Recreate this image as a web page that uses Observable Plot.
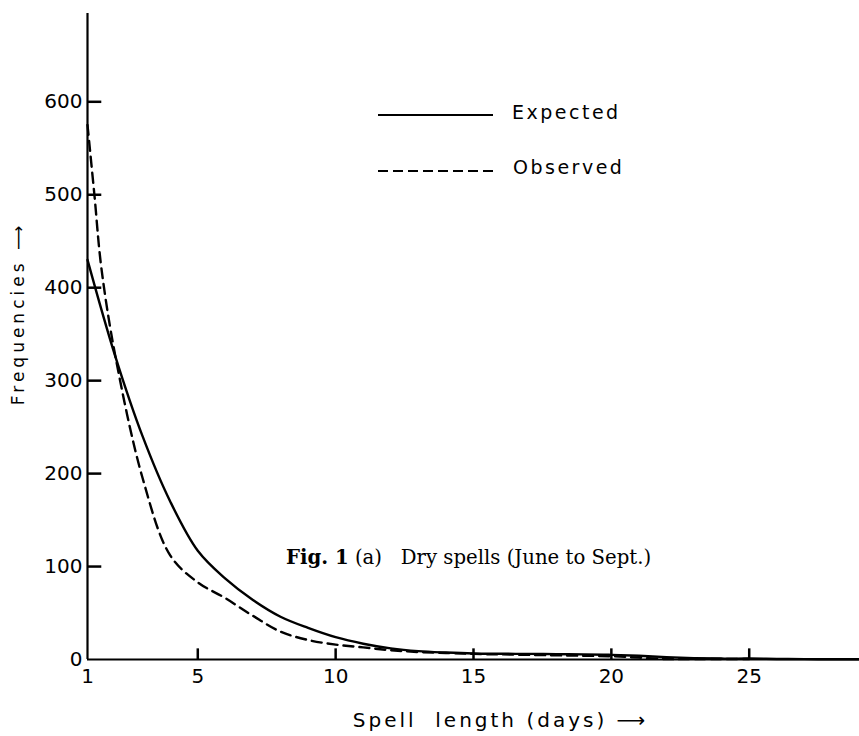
<!DOCTYPE html>
<html>
<head>
<meta charset="utf-8">
<script src="https://cdn.jsdelivr.net/npm/d3@7"></script>
<script src="https://cdn.jsdelivr.net/npm/@observablehq/plot@0.6"></script>
<style>
  html, body { margin: 0; padding: 0; background: #fff; }
  #wrap { position: relative; width: 859px; height: 736px; overflow: hidden; }
  .lg { position: absolute; font-family: "DejaVu Sans", sans-serif; font-size: 19px; letter-spacing: 2.5px; color: #000; line-height: 1; }
  #cap { position: absolute; font-family: "DejaVu Serif", serif; font-size: 19.7px; color: #000; white-space: pre; line-height: 1; }
</style>
</head>
<body>
<div id="wrap"></div>
<script>
// ---- data ----
const days = [1, 2, 3, 4, 5, 6, 7, 8, 9, 10, 11, 12, 13, 14, 15, 16, 17, 18, 19, 20, 21, 22, 23, 24, 25, 26, 27, 28, 29];
const expected = [430, 327, 240, 170, 117, 87, 64, 46, 34, 24, 17, 12, 9, 7.5, 6.5, 6.2, 6, 5.8, 5.5, 5, 4, 2.5, 1.5, 1, 1, 0.6, 0.4, 0.3, 0.2];
const obsDays = [1, 1.25, 1.5, 2, 3, 4, 5, 6, 7, 8, 9, 10, 11, 12, 13, 14, 15, 16, 17, 18, 19, 20, 21, 22, 23, 24, 25];
const observed = [575, 500, 422, 328, 195, 112, 83, 66, 47, 30, 21, 16, 13, 10, 8, 7, 6, 5.5, 5, 4.5, 4, 3.5, 2, 0.5, 0.5, 0.5, 0.5];
const xTicks = [1, 5, 10, 15, 20, 25];
const yTicks = [0, 100, 200, 300, 400, 500, 600];
const xLabel = "Spell  length (days) \u27F6";
const yLabel = "Frequencies \u27F6";
const legendLabels = ["Expected", "Observed"];
const caption = ["Fig. 1", " (a)   Dry spells (June to Sept.)"];

const expData = days.map((d, i) => ({day: d, freq: expected[i]}));
const obsData = obsDays.map((d, i) => ({day: d, freq: observed[i]}));

const xDomain = [1, 29];
const yDomain = [0, 695];

// short inward tick marks drawn from the axes
const yTickRows = yTicks.filter(v => v > 0).map(v => ({v, a: xDomain[0], b: xDomain[0] + 0.5}));
const xTickRows = xTicks.filter(v => v > xDomain[0]).map(v => ({v, a: 0, b: 12}));

const chart = Plot.plot({
  width: 859,
  height: 736,
  marginLeft: 87,
  marginRight: 0,
  marginTop: 13,
  marginBottom: 77,
  style: {fontFamily: "DejaVu Sans, sans-serif", fontSize: "20px", color: "#000", background: "#fff"},
  x: {domain: xDomain},
  y: {domain: yDomain},
  marks: [
    Plot.axisY({ticks: yTicks, tickSize: 0, tickPadding: 5, label: null, fontSize: 20}),
    Plot.axisX({ticks: xTicks, tickSize: 0, tickPadding: 9, label: null, fontSize: 20}),
    Plot.ruleX([xDomain[0]], {strokeWidth: 2.2}),
    Plot.ruleY([0], {strokeWidth: 2.2}),
    Plot.link(yTickRows, {x1: "a", x2: "b", y1: "v", y2: "v", stroke: "#000", strokeWidth: 2.5}),
    Plot.link(xTickRows, {x1: "v", x2: "v", y1: "a", y2: "b", stroke: "#000", strokeWidth: 2.5}),
    Plot.line(expData, {x: "day", y: "freq", curve: "catmull-rom", stroke: "#000", strokeWidth: 2.4}),
    Plot.line(obsData, {x: "day", y: "freq", curve: "catmull-rom", stroke: "#000", strokeWidth: 2.4, strokeDasharray: "10,6"}),
    Plot.text([yLabel], {frameAnchor: "left", textAnchor: "middle", dx: -69, dy: -23, rotate: -90, fontSize: 17, text: d => d, fill: "#000"}),
    Plot.text([xLabel], {frameAnchor: "bottom", textAnchor: "middle", dx: 27, dy: 67, fontSize: 20, text: d => d, fill: "#000"})
  ]
});
chart.querySelectorAll("text").forEach(t => {
  const s = t.textContent;
  if (s === yLabel) t.setAttribute("letter-spacing", "4");
  if (s === xLabel) t.setAttribute("letter-spacing", "3");
});
const wrap = document.getElementById("wrap");
wrap.appendChild(chart);

// legend
const ns = "http://www.w3.org/2000/svg";
const lsvg = document.createElementNS(ns, "svg");
lsvg.setAttribute("width", "859");
lsvg.setAttribute("height", "736");
lsvg.style.position = "absolute";
lsvg.style.left = "0";
lsvg.style.top = "0";
lsvg.style.pointerEvents = "none";
[[115, null], [171, "10,5"]].forEach(([y, dash]) => {
  const l = document.createElementNS(ns, "line");
  l.setAttribute("x1", 378); l.setAttribute("x2", 493);
  l.setAttribute("y1", y); l.setAttribute("y2", y);
  l.setAttribute("stroke", "#000"); l.setAttribute("stroke-width", "2.2");
  if (dash) l.setAttribute("stroke-dasharray", dash);
  lsvg.appendChild(l);
});
wrap.appendChild(lsvg);
[[512, 103], [513, 158]].forEach(([x, y], i) => {
  const d = document.createElement("div");
  d.className = "lg";
  d.style.left = x + "px";
  d.style.top = y + "px";
  d.textContent = legendLabels[i];
  wrap.appendChild(d);
});
const cap = document.createElement("div");
cap.id = "cap";
cap.style.left = "286px";
cap.style.top = "548px";
const b = document.createElement("b");
b.textContent = caption[0];
cap.appendChild(b);
cap.appendChild(document.createTextNode(caption[1]));
wrap.appendChild(cap);
</script>
</body>
</html>
